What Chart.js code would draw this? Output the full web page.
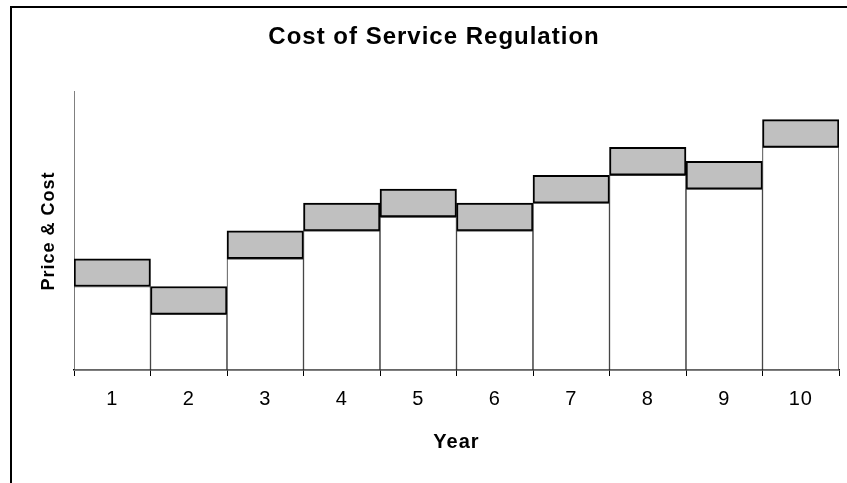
<!DOCTYPE html>
<html>
<head>
<meta charset="utf-8">
<script src="https://cdn.jsdelivr.net/npm/chart.js@4"></script>
<style>
  html, body { margin: 0; padding: 0; background: #fff; overflow: hidden; }
  #frame {
    position: absolute; left: 10px; top: 6px;
    width: 1000px; height: 1000px;
    border: 2px solid #000;
  }
  #chart { position: absolute; left: 0; top: 0; }
</style>
</head>
<body>
<div id="frame"></div>
<canvas id="chart" width="847" height="483"></canvas>
<script>
const years = ['1', '2', '3', '4', '5', '6', '7', '8', '9', '10'];
// cost per year (white part) and the allowed margin on top (grey part)
const costs = [3, 2, 4, 5, 5.5, 5, 6, 7, 6.5, 8];
const margins = [1, 1, 1, 1, 1, 1, 1, 1, 1, 1];

// Excel-style text is a bit spaced out
const spacing = {
  id: 'spacing',
  beforeDraw(chart) {
    chart.ctx.letterSpacing = '1px';
  }
};

new Chart(document.getElementById('chart'), {
  type: 'bar',
  data: {
    labels: years,
    datasets: [
      {
        label: 'Cost',
        data: costs,
        backgroundColor: '#ffffff',
        borderColor: '#333333',
        borderWidth: 1,
        borderSkipped: false
      },
      {
        label: 'Price',
        data: margins,
        backgroundColor: '#c0c0c0',
        borderColor: '#000000',
        borderWidth: 2,
        borderSkipped: false
      }
    ]
  },
  options: {
    responsive: false,
    animation: false,
    categoryPercentage: 1,
    barPercentage: 1,
    layout: { padding: { left: 21, right: 0, top: 10, bottom: 0 } },
    plugins: {
      legend: { display: false },
      tooltip: { enabled: false },
      title: {
        display: true,
        text: 'Cost of Service Regulation',
        color: '#000',
        font: { family: 'Liberation Sans, Arial', size: 24, weight: 'bold' },
        padding: { top: 13, bottom: 40 }
      }
    },
    scales: {
      x: {
        stacked: true,
        grid: {
          display: true,
          offset: true,
          drawOnChartArea: false,
          drawTicks: true,
          tickLength: 6,
          color: '#000'
        },
        border: { display: true, color: '#000', width: 1.5 },
        ticks: {
          color: '#000',
          padding: 11,
          font: { family: 'Liberation Sans, Arial', size: 20 }
        },
        title: {
          display: true,
          text: 'Year',
          color: '#000',
          font: { family: 'Liberation Sans, Arial', size: 20, weight: 'bold' },
          padding: { top: 0, bottom: 29 }
        },
        afterFit(scale) { scale.height = 113; }
      },
      y: {
        stacked: true,
        min: 0,
        max: 10,
        grid: { display: false },
        border: { display: true, color: '#808080', width: 1 },
        ticks: { display: false },
        title: {
          display: true,
          text: 'Price & Cost',
          color: '#000',
          font: { family: 'Liberation Sans, Arial', size: 18, weight: 'bold' },
          padding: { top: 17, bottom: 0 }
        },
        afterFit(scale) { scale.width = 53; }
      },
      // empty axis on the right, only to keep the plot off the right edge
      yRight: {
        position: 'right',
        display: true,
        grid: { display: false },
        border: { display: false },
        ticks: { display: false },
        afterFit(scale) { scale.width = 8; }
      }
    }
  },
  plugins: [spacing]
});
</script>
</body>
</html>
